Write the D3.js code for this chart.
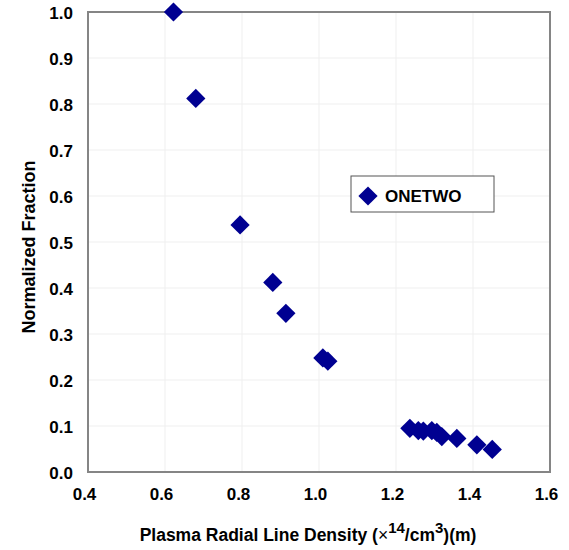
<!DOCTYPE html>
<html>
<head>
<meta charset="utf-8">
<script src="https://cdn.jsdelivr.net/npm/d3@7"></script>
<style>
  body { margin: 0; background: #fff; }
  text { font-family: "Liberation Sans", Arial, sans-serif; font-weight: bold; fill: #000; }
</style>
</head>
<body>
<div id="chart"></div>
<script>
// data
var lineDensity = [0.622, 0.680, 0.795, 0.880, 0.914, 1.010, 1.023, 1.236, 1.258, 1.271,
                   1.293, 1.306, 1.319, 1.358, 1.410, 1.450];
var normFraction = [1.000, 0.812, 0.537, 0.412, 0.345, 0.248, 0.241, 0.095, 0.090, 0.089,
                    0.090, 0.086, 0.077, 0.073, 0.059, 0.049];
var xTicks = [0.4, 0.6, 0.8, 1.0, 1.2, 1.4, 1.6];
var yTicks = [0.0, 0.1, 0.2, 0.3, 0.4, 0.5, 0.6, 0.7, 0.8, 0.9, 1.0];
var seriesName = "ONETWO";

// set the dimensions and margins of the graph
var margin = { top: 12, right: 19, bottom: 78, left: 88 },
    width = 569 - margin.left - margin.right,
    height = 550 - margin.top - margin.bottom;

var svg = d3.select("#chart")
    .append("svg")
    .attr("width", 569)
    .attr("height", 550)
    .append("g")
    .attr("transform", "translate(" + margin.left + "," + margin.top + ")");

var x = d3.scaleLinear().domain([0.4, 1.6]).range([0, width]);
var y = d3.scaleLinear().domain([0, 1]).range([height, 0]);

// faint grid lines
svg.append("g")
    .selectAll("line")
    .data(xTicks.slice(1, -1))
    .enter().append("line")
    .attr("x1", function (d) { return x(d); })
    .attr("x2", function (d) { return x(d); })
    .attr("y1", 0).attr("y2", height)
    .attr("stroke", "#efefef").attr("stroke-width", 1);
svg.append("g")
    .selectAll("line")
    .data(yTicks.slice(1, -1))
    .enter().append("line")
    .attr("y1", function (d) { return y(d); })
    .attr("y2", function (d) { return y(d); })
    .attr("x1", 0).attr("x2", width)
    .attr("stroke", "#efefef").attr("stroke-width", 1);

// frame
svg.append("rect")
    .attr("width", width).attr("height", height)
    .attr("fill", "none").attr("stroke", "#858585").attr("stroke-width", 2);

// axes (labels only)
var xAxis = svg.append("g")
    .attr("transform", "translate(0," + height + ")")
    .call(d3.axisBottom(x).tickValues(xTicks).tickFormat(d3.format(".1f")).tickSize(0).tickPadding(16));
xAxis.select(".domain").remove();
xAxis.selectAll("text")
    .attr("dx", -4)
    .style("font-size", "17px")
    .style("font-family", "Liberation Sans, Arial, sans-serif")
    .style("font-weight", "bold");

var yAxis = svg.append("g")
    .call(d3.axisLeft(y).tickValues(yTicks).tickFormat(d3.format(".1f")).tickSize(0).tickPadding(15));
yAxis.select(".domain").remove();
yAxis.selectAll("text")
    .attr("dy", "0.38em")
    .style("font-size", "17px")
    .style("font-family", "Liberation Sans, Arial, sans-serif")
    .style("font-weight", "bold");

// axis titles
var xTitle = svg.append("text")
    .attr("x", 308 - margin.left)
    .attr("y", 541 - margin.top)
    .attr("text-anchor", "middle")
    .style("font-size", "17.5px");
xTitle.append("tspan").text("Plasma Radial Line Density (");
xTitle.append("tspan").text("\u00d7").style("font-weight", "normal");
xTitle.append("tspan").text("14").attr("dy", -8).style("font-size", "15px");
xTitle.append("tspan").text("/cm").attr("dy", 8);
xTitle.append("tspan").text("3").attr("dy", -8).style("font-size", "15px");
xTitle.append("tspan").text(")(m)").attr("dy", 8);

svg.append("text")
    .attr("transform", "rotate(-90)")
    .attr("x", -(247 - margin.top))
    .attr("y", 35 - margin.left)
    .attr("text-anchor", "middle")
    .style("font-size", "18px")
    .text("Normalized Fraction");

// diamonds
var diamond = d3.symbol().type(d3.symbolSquare).size(185);
svg.selectAll("path.pt")
    .data(lineDensity)
    .enter().append("path")
    .attr("class", "pt")
    .attr("d", diamond)
    .attr("transform", function (d, i) {
        return "translate(" + x(d) + "," + y(normFraction[i]) + ") rotate(45)";
    })
    .attr("fill", "#000091");

// legend
var legend = svg.append("g").attr("transform", "translate(" + (351 - margin.left) + "," + (176 - margin.top) + ")");
legend.append("rect")
    .attr("width", 143).attr("height", 36)
    .attr("fill", "#fff").attr("stroke", "#555").attr("stroke-width", 1);
legend.append("path")
    .attr("d", diamond)
    .attr("transform", "translate(17,20) rotate(45)")
    .attr("fill", "#000091");
legend.append("text")
    .attr("x", 34).attr("y", 26)
    .style("font-size", "17px")
    .text(seriesName);
</script>
</body>
</html>
